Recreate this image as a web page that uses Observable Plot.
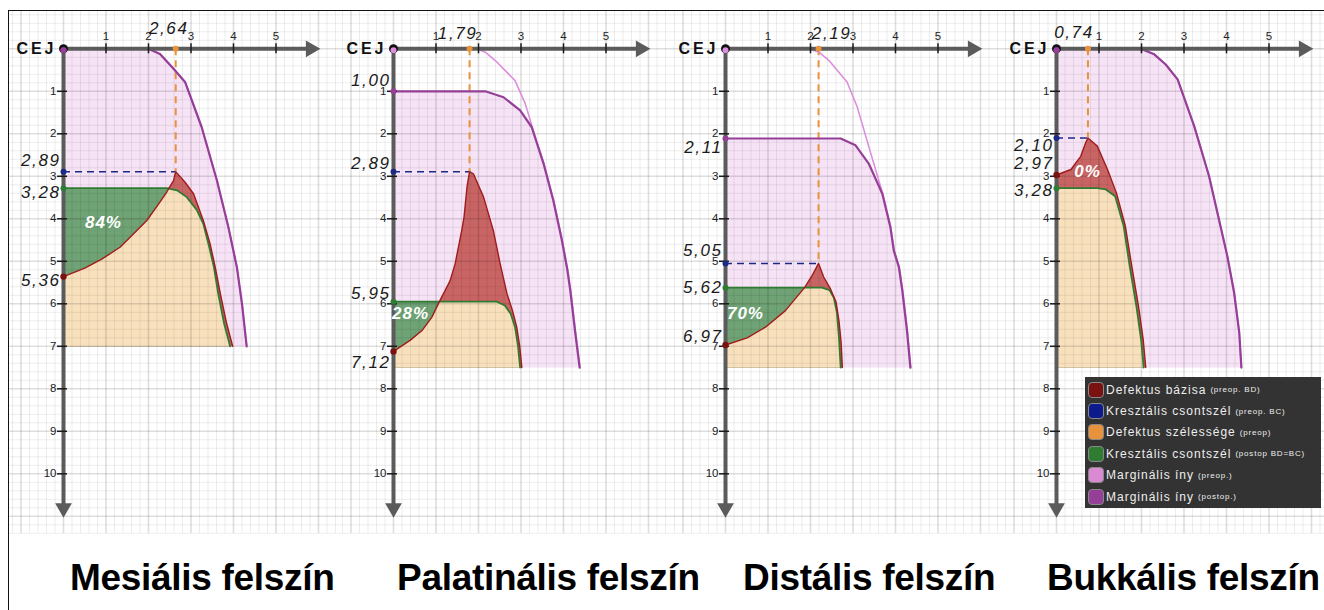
<!DOCTYPE html>
<html>
<head>
<meta charset="utf-8">
<script src="https://cdn.jsdelivr.net/npm/d3@7"></script>
<script src="https://cdn.jsdelivr.net/npm/@observablehq/plot@0.6"></script>
<style>
  html, body { margin: 0; padding: 0; background: #fff; }
  #wrap { position: relative; width: 1324px; height: 610px; overflow: hidden; font-family: "Liberation Sans", Arial, sans-serif; }
  #frame { position: absolute; left: 8px; top: 10px; width: 1330px; height: 620px; border-left: 1.5px solid #111; border-top: 1.5px solid #111; box-sizing: border-box; }
  .panel { position: absolute; top: 11px; }
  .title { position: absolute; top: 559px; font: bold 37px "Liberation Sans", Arial, sans-serif; line-height: 37px; color: #000; white-space: nowrap; letter-spacing: -0.3px; }
  #legend { position: absolute; left: 1085px; top: 377px; width: 236px; height: 131px; background: #333; box-sizing: border-box; padding-top: 2px; z-index: 5; }
  .li { height: 21.4px; display: flex; align-items: center; color: #eee; font-size: 12px; letter-spacing: 1px; white-space: nowrap; }
  .sw { width: 16px; height: 16px; border-radius: 4px; border: 1px solid #888; box-sizing: border-box; margin: 0 2px 0 3px; flex: none; }
  .li small { font-size: 8px; letter-spacing: 0.8px; margin-left: 4px; }
  g[font-style="italic"]:not([font-weight]) text { letter-spacing: 1.6px; }
  g[font-weight="bold"]:not([font-style]) text { letter-spacing: 3px; }
  g[font-weight="bold"][font-style="italic"] text { letter-spacing: 1px; }
</style>
</head>
<body>
<div id="wrap">
  <div id="frame"></div>
  <div id="legend"></div>
</div>
<script>
// ---------------- DATA (mm) ----------------
const titles = ["Mesiális felszín", "Palatinális felszín", "Distális felszín", "Bukkális felszín"];
const defectWidth = [2.64, 1.79, 2.19, 0.74];   // defektus szélessége (preop)
const crestPre    = [2.89, 2.89, 5.05, 2.10];   // kresztális csontszél (preop BC)
const crestPost   = [3.28, 5.95, 5.62, 3.28];   // kresztális csontszél (postop BD=BC)
const basePre     = [5.36, 7.12, 6.97, 2.97];   // defektus bázisa (preop BD)
const marginPost  = [0.00, 1.00, 2.11, 0.00];   // marginális íny (postop) at the axis
const fillPct     = ["84%", "28%", "70%", "0%"];
const pctAt       = [[0.94, 4.08], [0.40, 6.22], [0.47, 6.22], [0.73, 2.88]];
const depthMax    = [7.0, 7.5, 7.5, 7.5];
const xTicks = [1, 2, 3, 4, 5];
const yTicks = [1, 2, 3, 4, 5, 6, 7, 8, 9, 10];

// Marginal gingiva curves [x, depth]
const gingivaPre1 = [[0,0],[2.0,0],[2.27,0.12],[2.59,0.47],[2.86,0.78],[3.25,1.84],[3.61,3.1],[3.88,4.2],[4.08,5.14],[4.2,6.0],[4.31,7.0]];
const gingivaPost1 = gingivaPre1;
const gingivaPre2 = [[0,0],[1.96,0],[2.16,0.08],[2.43,0.31],[2.86,0.75],[3.1,1.29],[3.29,1.92],[3.54,2.7],[3.77,3.57],[3.97,4.5],[4.1,5.2],[4.17,5.69],[4.28,6.63],[4.39,7.5]];
const gingivaPost2 = [[0,1.0],[2.16,1.0],[2.59,1.14],[2.98,1.45],[3.25,1.84],[3.53,2.7],[3.76,3.57],[3.96,4.5],[4.09,5.2],[4.16,5.69],[4.27,6.63],[4.38,7.5]];
const gingivaPre3 = [[0,0],[1.96,0],[2.2,0.08],[2.43,0.27],[2.86,0.78],[3.1,1.37],[3.33,2.16],[3.7,3.41],[3.89,4.2],[3.97,4.75],[4.09,5.14],[4.17,5.69],[4.28,6.63],[4.36,7.5]];
const gingivaPost3 = [[0,2.11],[2.71,2.11],[3.06,2.27],[3.37,2.7],[3.69,3.41],[3.88,4.2],[3.96,4.75],[4.08,5.14],[4.16,5.69],[4.27,6.63],[4.35,7.5]];
const gingivaPre4 = [[0,0],[1.98,0],[2.3,0.13],[2.57,0.37],[2.85,0.72],[3.24,1.82],[3.59,3.0],[4.02,4.88],[4.18,5.74],[4.3,6.68],[4.35,7.5]];
const gingivaPost4 = gingivaPre4;

// Defect base (preop BD) curves
const defect1 = [[0,5.36],[0.5,5.16],[0.9,4.95],[1.33,4.67],[1.65,4.35],[1.96,4.04],[2.24,3.65],[2.43,3.37],[2.48,3.28],[2.59,3.1],[2.64,2.89],[2.86,3.14],[3.06,3.41],[3.29,4.04],[3.45,4.59],[3.57,5.14],[3.69,5.76],[3.84,6.47],[3.98,7.0]];
const defect2 = [[0,7.12],[0.39,6.86],[0.67,6.63],[0.9,6.32],[1.08,5.95],[1.33,5.46],[1.45,5.06],[1.6,4.3],[1.66,3.96],[1.73,3.25],[1.79,2.89],[1.88,2.94],[2.12,3.49],[2.35,4.28],[2.51,5.06],[2.67,5.76],[2.8,6.16],[2.9,6.55],[2.97,7.0],[3.02,7.5]];
const defect3 = [[0,6.97],[0.51,6.8],[0.94,6.55],[1.41,6.16],[1.86,5.62],[2.04,5.33],[2.19,5.05],[2.31,5.37],[2.47,5.65],[2.6,5.95],[2.67,6.4],[2.72,6.9],[2.75,7.5]];
const defect4 = [[0,2.97],[0.34,2.84],[0.57,2.53],[0.69,2.2],[0.74,2.10],[0.96,2.29],[1.2,2.84],[1.41,3.39],[1.62,4.17],[1.77,5.11],[1.93,6.06],[2.04,6.84],[2.1,7.5]];

// Crestal bone (postop BD=BC) curves
const crest1 = [[0,3.28],[2.43,3.28],[2.67,3.33],[2.9,3.49],[3.14,3.8],[3.29,4.12],[3.43,4.67],[3.54,5.14],[3.64,5.76],[3.78,6.47],[3.92,7.0]];
const crest2 = [[0,5.95],[2.43,5.95],[2.62,6.04],[2.76,6.24],[2.86,6.55],[2.93,7.0],[2.98,7.5]];
const crest3 = [[0,5.62],[2.27,5.62],[2.45,5.68],[2.55,5.86],[2.62,6.2],[2.67,6.8],[2.71,7.5]];
const crest4 = [[0,3.28],[0.96,3.28],[1.16,3.31],[1.38,3.47],[1.58,4.17],[1.72,5.1],[1.88,6.06],[1.99,6.84],[2.05,7.5]];

const legendLabels = [
  ["Defektus bázisa", "(preop. BD)"],
  ["Kresztális csontszél", "(preop. BC)"],
  ["Defektus szélessége", "(preop)"],
  ["Kresztális csontszél", "(postop BD=BC)"],
  ["Marginális íny", "(preop.)"],
  ["Marginális íny", "(postop.)"]
];

// ---------------- STYLE / LAYOUT ----------------
const C = {
  pinkFill: "#f6e3f6", redFill: "#c96464", greenFill: "#6fa275", orangeFill: "#f8e0bd",
  redLine: "#a01c1c", greenLine: "#2f7b32", pinkLine: "#dd8edd", purpleLine: "#963f99",
  orange: "#e8923b", navy: "#1b2a85", axis: "#5b5b5b", darkred: "#7a1212"
};
const legendColors = ["#7a1212", "#0c1a8c", "#e8923b", "#2f7b32", "#d98ad3", "#963f99"];
const U = 42.5;                       // px per mm
const panelLeft = [9, 339, 671, 1002];
const panelWidth = [330, 332, 331, 322];
const originDx = 54, originDy = 37.3, svgH = 522;
const xAxisTip = 6.04, yAxisTip = 11.03;
const xLabDx = [-7, -12, 13, -14], xLabDy = [-20, -15, -15, -16];
const yLabDy = {           // vertical nudges of the value labels (px)
  post:  [0, -11, 9, 0],
  pre:   [-11, -8, -13, 7],
  crest: [4, -8, 0, 2],
  base:  [4, 11, -8, -11]
};
const titleLeft = [70, 397, 743, 1047];

const gingivaPre = [gingivaPre1, gingivaPre2, gingivaPre3, gingivaPre4];
const gingivaPost = [gingivaPost1, gingivaPost2, gingivaPost3, gingivaPost4];
const defects = [defect1, defect2, defect3, defect4];
const crests = [crest1, crest2, crest3, crest4];

const fmt = v => v.toFixed(2).replace(".", ",");
const P = d => ({x: d[0], y: d[1]});

function buildPanel(i) {
  const W = panelWidth[i];
  const bottom = depthMax[i];
  const gPre = gingivaPre[i].map(P), gPost = gingivaPost[i].map(P);
  const red = defects[i].map(P), green = crests[i].map(P);
  const close = pts => [...pts, {x: 0, y: bottom}];
  // region under both the defect base and the postop crest
  const apex = d3.minIndex(red, d => d.y);
  const redAsc = red.slice(0, apex + 1).filter(p => p.y >= crestPost[i]);
  const lastX = redAsc.length ? redAsc[redAsc.length - 1].x : -1;
  const orange = redAsc.length ? [...redAsc, ...green.filter(p => p.x > lastX)] : green;

  const xDom = [-originDx / U, (W - originDx) / U];
  const yDom = [(svgH - originDy) / U, -originDy / U];
  const minorX = d3.range(Math.ceil(xDom[0] * 5), Math.floor(xDom[1] * 5) + 1).filter(k => k % 5 !== 0).map(k => k / 5);
  const majorX = d3.range(Math.ceil(xDom[0]), Math.floor(xDom[1]) + 1);
  const minorY = d3.range(Math.ceil(yDom[1] * 5), Math.floor(yDom[0] * 5) + 1).filter(k => k % 5 !== 0).map(k => k / 5);
  const majorY = d3.range(Math.ceil(yDom[1]), Math.floor(yDom[0]) + 1);

  const ylabels = [];
  if (marginPost[i] > 0) ylabels.push({v: marginPost[i], dy: yLabDy.post[i]});
  ylabels.push({v: crestPre[i], dy: yLabDy.pre[i]});
  ylabels.push({v: crestPost[i], dy: yLabDy.crest[i]});
  ylabels.push({v: basePre[i], dy: yLabDy.base[i]});

  const labelFont = {fontSize: 17, fontStyle: "italic", fill: "#1a1a1a"};

  const marks = [
    // fills
    Plot.line(close(gPost), {x: "x", y: "y", fill: C.pinkFill, stroke: "none"}),
    Plot.line(close(red), {x: "x", y: "y", fill: C.redFill, stroke: "none"}),
    Plot.line(close(green), {x: "x", y: "y", fill: C.greenFill, stroke: "none"}),
    Plot.line(close(orange), {x: "x", y: "y", fill: C.orangeFill, stroke: "none"}),
    // grid
    Plot.ruleX(minorX, {stroke: "#000", strokeOpacity: 0.07, strokeWidth: 1}),
    Plot.ruleY(minorY, {stroke: "#000", strokeOpacity: 0.07, strokeWidth: 1}),
    Plot.ruleX(majorX, {stroke: "#000", strokeOpacity: 0.13, strokeWidth: 1.6}),
    Plot.ruleY(majorY, {stroke: "#000", strokeOpacity: 0.13, strokeWidth: 1.6}),
    // dashed guides
    Plot.ruleX([defectWidth[i]], {y1: 0, y2: crestPre[i], stroke: C.orange, strokeWidth: 2, strokeDasharray: "7,5"}),
    Plot.ruleY([crestPre[i]], {x1: 0, x2: defectWidth[i], stroke: C.navy, strokeWidth: 1.5, strokeDasharray: "7,5"}),
    // curves
    Plot.line(gPre, {x: "x", y: "y", stroke: C.pinkLine, strokeWidth: 1.6}),
    Plot.line(gPost, {x: "x", y: "y", stroke: C.purpleLine, strokeWidth: 2.2}),
    Plot.line(green, {x: "x", y: "y", stroke: C.greenLine, strokeWidth: 1.8}),
    Plot.line(red, {x: "x", y: "y", stroke: C.redLine, strokeWidth: 1.4}),
    // axes
    Plot.ruleY([0], {x1: 0, x2: xAxisTip, stroke: C.axis, strokeWidth: 4, insetRight: 8}),
    Plot.ruleX([0], {y1: 0, y2: yAxisTip, stroke: C.axis, strokeWidth: 4, insetBottom: 8}),
    Plot.dot([xAxisTip], {x: d => d, y: 0, symbol: "triangle2", r: 8, rotate: 90, fill: C.axis, stroke: "none", dx: -9.5}),
    Plot.dot([yAxisTip], {x: 0, y: d => d, symbol: "triangle2", r: 8, rotate: 180, fill: C.axis, stroke: "none", dy: -9.5}),
    Plot.ruleX(xTicks, {x: d => d, y1: 0, y2: 0, insetTop: -5, insetBottom: -5, stroke: "#1a1a1a", strokeWidth: 1.5}),
    Plot.ruleY(yTicks, {y: d => d, x1: 0, x2: 0, insetLeft: -6, insetRight: -4, stroke: "#1a1a1a", strokeWidth: 1.5}),
    Plot.text(xTicks, {x: d => d, y: 0, text: d => String(d), dy: -12, fontSize: 11.5, fill: "#222"}),
    Plot.text(yTicks, {x: 0, y: d => d, text: d => String(d), textAnchor: "end", dx: -7, fontSize: 11.5, fill: "#222"}),
    Plot.text(["CEJ"], {x: 0, y: 0, text: d => d, textAnchor: "end", dx: -7, fontSize: 16, fontWeight: "bold", fill: "#111"}),
    // points on axes
    Plot.dot([0], {x: 0, y: 0, r: 4.5, fill: "#111", stroke: "none"}),
    Plot.dot([0], {x: 0, y: 0, r: 3, fill: marginPost[i] > 0 ? C.pinkLine : C.purpleLine, stroke: "none", dy: 1.5}),
    Plot.dot([marginPost[i]], {x: 0, y: d => d, r: 3, fill: C.purpleLine, stroke: "none", dy: marginPost[i] > 0 ? 0 : 1.5}),
    Plot.dot([crestPre[i]], {x: 0, y: d => d, r: 3, fill: C.navy, stroke: "none"}),
    Plot.dot([crestPost[i]], {x: 0, y: d => d, r: 3, fill: C.greenLine, stroke: "none"}),
    Plot.dot([basePre[i]], {x: 0, y: d => d, r: 3.2, fill: C.darkred, stroke: "none"}),
    Plot.dot([defectWidth[i]], {x: d => d, y: 0, r: 3, fill: C.orange, stroke: "none"}),
    // value labels
    Plot.text([defectWidth[i]], {x: d => d, y: 0, text: d => fmt(d), dx: xLabDx[i], dy: xLabDy[i], ...labelFont}),
    ...ylabels.map(l => Plot.text([l.v], {x: 0, y: d => d, text: d => fmt(d), textAnchor: "end", dx: -3, dy: l.dy, ...labelFont})),
    // percentage
    Plot.text([fillPct[i]], {x: pctAt[i][0], y: pctAt[i][1], text: d => d, fill: "#fff", fontSize: 17, fontWeight: "bold", fontStyle: "italic"})
  ];

  const svg = Plot.plot({
    width: W, height: svgH,
    marginTop: 0, marginRight: 0, marginBottom: 0, marginLeft: 0,
    x: {domain: xDom, axis: null},
    y: {domain: yDom, axis: null},
    style: {background: "transparent", overflow: "visible", fontFamily: "Liberation Sans, Arial, sans-serif"},
    marks
  });
  svg.classList.add("panel");
  svg.style.left = panelLeft[i] + "px";
  svg.style.top = "11px";
  svg.style.position = "absolute";
  return svg;
}

const wrap = document.getElementById("wrap");
const legend = document.getElementById("legend");
for (let i = 0; i < 4; i++) {
  wrap.insertBefore(buildPanel(i), legend);
  const t = document.createElement("div");
  t.className = "title";
  t.style.left = titleLeft[i] + "px";
  t.textContent = titles[i];
  wrap.appendChild(t);
}
legendLabels.forEach(([main, sub], k) => {
  const row = d3.select(legend).append("div").attr("class", "li");
  row.append("span").attr("class", "sw").style("background", legendColors[k]);
  row.append("span").text(main);
  row.append("small").text(sub);
});
</script>
</body>
</html>
